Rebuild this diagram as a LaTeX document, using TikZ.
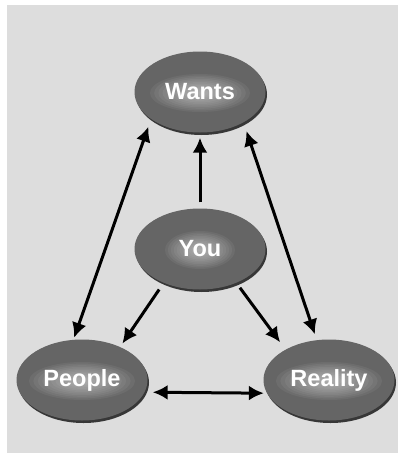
\documentclass[tikz,border=0pt]{standalone}
\usepackage{fontspec}
\setmainfont{Liberation Sans}
\usepackage{tikz}
\usetikzlibrary{shapes,arrows.meta,shadows}
\definecolor{bg}{RGB}{221,221,221}
\definecolor{blob}{RGB}{101,101,101}
\tikzstyle{blob}=[ellipse,fill=blob,minimum width=131pt,minimum height=81pt,inner sep=0pt,text=white,font=\fontsize{23.5}{25}\selectfont\bfseries,drop shadow={shadow xshift=1.5pt,shadow yshift=-2.5pt,opacity=0.75,fill=black},
  path picture={\foreach \k in {1,...,12} \fill[white,opacity=0.055] ([yshift=-1pt]path picture bounding box.center) ellipse ({#1*\k/12} and {19pt*\k/12});}]
\tikzstyle{link}=[line width=3pt,>={Latex[length=15pt,width=15pt]}]

\begin{document}
\begin{tikzpicture}[x=1pt,y=-1pt]
\useasboundingbox (0,0) rectangle (400,455);
\fill[bg] (7,5) rectangle (398,453);
\node[blob=50pt] (wants) at (200,92) {Wants};
\node[blob=35pt] (you) at (200,249) {You};
\node[blob=53pt] (people) at (82,380) {People};
\node[blob=53pt] (reality) at (329,380) {Reality};
\draw[link,<->,shorten <=8pt,shorten >=2pt] (wants.209) -- (people.102);
\draw[link,<->,shorten <=9pt,shorten >=6pt] (wants.325) -- (reality.107);
\draw[link,->,shorten <=6pt,shorten >=5pt] (you.north) -- (wants.south);
\draw[link,->,shorten <=8pt,shorten >=4pt] (you.223) -- (people.41);
\draw[link,->,shorten <=6pt,shorten >=9pt] (you.317) -- (reality.145);
\draw[link,<->,shorten <=8pt,shorten >=3pt] (people.349) -- (reality.192);
\end{tikzpicture}
\end{document}
